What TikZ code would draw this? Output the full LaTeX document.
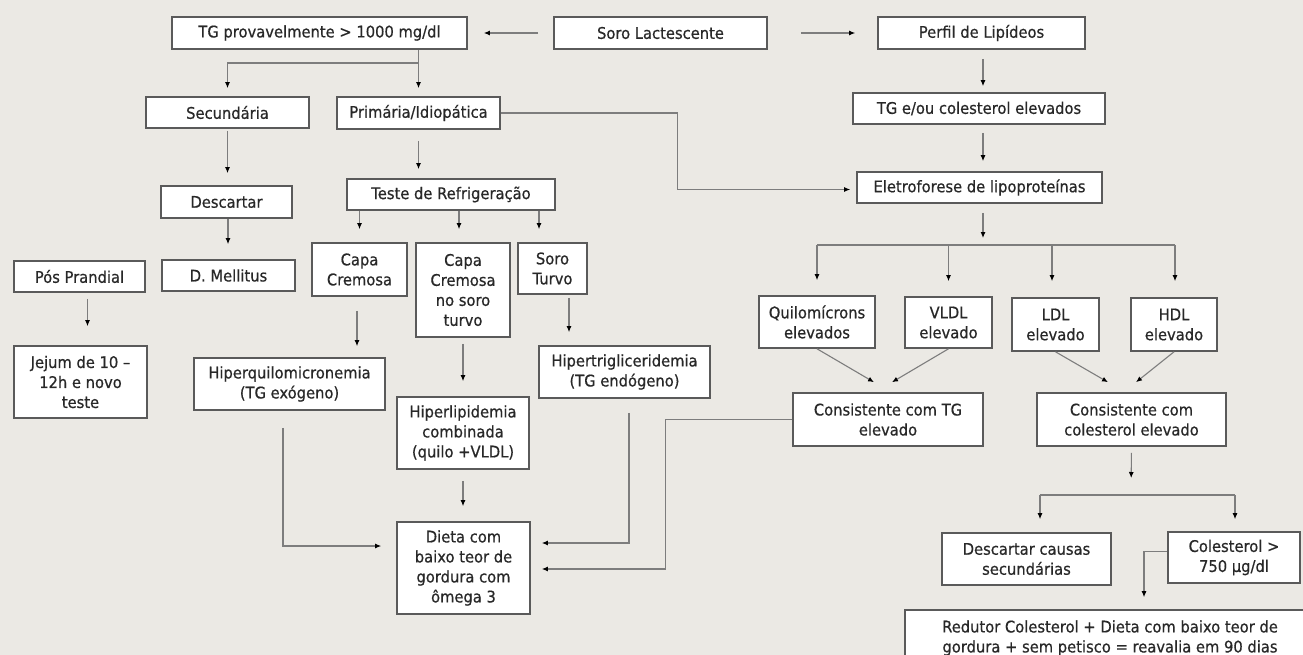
\documentclass[tikz,border=0pt]{standalone}
\usepackage{fontspec}
\setmainfont[FakeStretch=0.92,FakeBold=0.6]{DejaVu Sans}
\usetikzlibrary{arrows.meta,calc}
\definecolor{bgc}{RGB}{235,233,228}
\definecolor{linec}{RGB}{125,125,125}
\definecolor{boxc}{RGB}{90,90,90}
\definecolor{txtc}{RGB}{40,40,40}
\begin{document}
\begin{tikzpicture}[x=1pt,y=-1pt,
  box/.style={draw=boxc, line width=1.6pt, fill=white, text=txtc, align=center, inner sep=0pt, font=\fontsize{16}{20}\selectfont},
  conn/.style={draw=linec, line width=1.1pt, -{Latex[length=6pt,width=5pt,color=black]}},
  plainline/.style={draw=linec, line width=1.1pt}]
\useasboundingbox (0,0) rectangle (1303,655);
\clip (0,0) rectangle (1303,655);
\fill[bgc] (0,0) rectangle (1303,655);

% nodes
\node[box, minimum width=295pt, minimum height=32pt] (tg) at (319.5,33) {TG provavelmente > 1000 mg/dl};
\node[box, minimum width=213pt, minimum height=32pt] (soro) at (660.5,33) {Soro Lactescente};
\node[box, minimum width=207pt, minimum height=32pt] (perfil) at (981.5,33) {Perfil de Lipídeos};
\node[box, minimum width=163pt, minimum height=31pt] (sec) at (227.5,112.5) {Secundária};
\node[box, minimum width=163pt, minimum height=32pt] (prim) at (418.5,113) {Primária/Idiopática};
\node[box, minimum width=252pt, minimum height=31pt] (tgcol) at (979,108.5) {TG e/ou colesterol elevados};
\node[box, minimum width=131pt, minimum height=32pt] (desc) at (226.5,202) {Descartar};
\node[box, minimum width=208pt, minimum height=31pt] (teste) at (451,194.5) {Teste de Refrigeração};
\node[box, minimum width=245pt, minimum height=31pt] (eletro) at (979.5,187.5) {Eletroforese de lipoproteínas};
\node[box, minimum width=131pt, minimum height=31pt] (pos) at (79.5,276.5) {Pós Prandial};
\node[box, minimum width=133pt, minimum height=31pt] (dm) at (228.5,275.5) {D. Mellitus};
\node[box, minimum width=95pt, minimum height=53pt] (capa) at (359.5,269.5) {Capa\\Cremosa};
\node[box, minimum width=94pt, minimum height=94pt] (capasoro) at (463,290) {Capa\\Cremosa\\no soro\\turvo};
\node[box, minimum width=69pt, minimum height=51pt] (soroturvo) at (552.5,268.5) {Soro\\Turvo};
\node[box, minimum width=133pt, minimum height=72pt] (jejum) at (80.5,382) {Jejum de 10 –\\12h e novo\\teste};
\node[box, minimum width=191pt, minimum height=52pt] (hquilo) at (289.5,384) {Hiperquilomicronemia\\(TG exógeno)};
\node[box, minimum width=171pt, minimum height=52pt] (htrig) at (624.5,372) {Hipertrigliceridemia\\(TG endógeno)};
\node[box, minimum width=132pt, minimum height=72pt] (hlip) at (463,433) {Hiperlipidemia\\combinada\\(quilo +VLDL)};
\node[box, minimum width=133pt, minimum height=92pt] (dieta) at (463.5,568) {Dieta com\\baixo teor de\\gordura com\\ômega 3};
\node[box, minimum width=116pt, minimum height=52pt] (quilo) at (817,322) {Quilomícrons\\elevados};
\node[box, minimum width=87pt, minimum height=51pt] (vldl) at (948.5,322.5) {VLDL\\elevado};
\node[box, minimum width=87pt, minimum height=53pt] (ldl) at (1055.5,324.5) {LDL\\elevado};
\node[box, minimum width=86pt, minimum height=53pt] (hdl) at (1174,324.5) {HDL\\elevado};
\node[box, minimum width=190pt, minimum height=53pt] (constg) at (888,419.5) {Consistente com TG\\elevado};
\node[box, minimum width=189pt, minimum height=53pt] (conscol) at (1131.5,419.5) {Consistente com\\colesterol elevado};
\node[box, minimum width=169pt, minimum height=52pt] (desccausas) at (1026.5,559) {Descartar causas\\secundárias};
\node[box, minimum width=132pt, minimum height=51pt] (col750) at (1234,557.5) {Colesterol >\\750 µg/dl};
\node[box, minimum width=410pt, minimum height=56pt] (redutor) at (1110,638) {Redutor Colesterol + Dieta com baixo teor de\\gordura + sem petisco = reavalia em 90 dias};

% junction coordinates
\coordinate (j1) at (419,63);
\coordinate (b0) at (983,245);
\coordinate (b1) at (817,245);
\coordinate (b4) at (1175,245);
\coordinate (c0) at (1131,495);
\coordinate (c1) at (1040,495);
\coordinate (c2) at (1235,495);

% top row
\draw[conn, shorten <=15pt, shorten >=16pt] (soro.west) -- (tg.east);
\draw[conn, shorten <=33pt, shorten >=22pt] (soro.east) -- (perfil.west);

% TG branch
\draw[conn, shorten >=8pt] (tg.south -| prim.north) -- (prim.north);
\draw[conn, shorten >=8pt] (j1) -| (sec.north);

% right column
\draw[conn, shorten <=9pt, shorten >=6pt] ([xshift=1.5pt]perfil.south) -- ([xshift=4pt]tgcol.north);
\draw[conn, shorten <=8pt, shorten >=10pt] ([xshift=4pt]tgcol.south) -- ([xshift=3.5pt]eletro.north);
\draw[conn, shorten >=6pt] (prim.east) -- ++(177,0) |- ([yshift=-2pt]eletro.west);

% left column
\draw[conn, shorten <=2pt, shorten >=12pt] (sec.south) -- (sec.south |- desc.north);
\draw[conn, shorten <=11pt, shorten >=9pt] (prim.south) -- (prim.south |- teste.north);
\draw[conn, shorten <=0pt, shorten >=15pt] ([xshift=1.5pt]desc.south) -- ([xshift=1.5pt]desc.south |- dm.north);
\draw[conn, shorten <=6pt, shorten >=19pt] ([xshift=8pt]pos.south) -- ([xshift=8pt]pos.south |- jejum.north);

% teste children
\draw[conn, shorten >=13pt] (teste.south -| capa.north) -- (capa.north);
\draw[conn, shorten >=13pt] ([xshift=-4pt]teste.south -| capasoro.north) -- ([xshift=-4pt]capasoro.north);
\draw[conn, shorten >=13pt] ([xshift=-13.5pt]teste.south -| soroturvo.north) -- ([xshift=-13.5pt]soroturvo.north);

\draw[conn, shorten <=14pt, shorten >=11pt] ([xshift=-2.5pt]capa.south) -- ([xshift=-2.5pt]capa.south |- hquilo.north);
\draw[conn, shorten <=6pt, shorten >=15pt] (capasoro.south) -- (capasoro.south |- hlip.north);
\draw[conn, shorten <=3pt, shorten >=13pt] ([xshift=16.5pt]soroturvo.south) -- ([xshift=16.5pt]soroturvo.south |- htrig.north);

% into dieta
\draw[conn, shorten <=17pt, shorten >=15pt] ([xshift=-6.5pt]hquilo.south) |- ([yshift=22pt]dieta.west);
\draw[conn, shorten <=11pt, shorten >=15pt] (hlip.south) -- (hlip.south |- dieta.north);
\draw[conn, shorten <=14pt, shorten >=11pt] ([xshift=4.5pt]htrig.south) |- ([yshift=25pt]dieta.east);
\draw[conn, shorten >=11pt] (constg.west) -- ++(-127,0) |- ([yshift=-1pt]dieta.east);

% eletroforese branch
\draw[conn, shorten <=9pt, shorten >=7pt] ([xshift=3.5pt]eletro.south) -- (b0);
\draw[plainline] (b1) -- (b4);
\draw[conn, shorten >=15pt] (quilo.north |- b1) -- (quilo.north);
\draw[conn, shorten >=15pt] (vldl.north |- b1) -- (vldl.north);
\draw[conn, shorten >=16pt] ([xshift=-3.5pt]ldl.north |- b1) -- ([xshift=-3.5pt]ldl.north);
\draw[conn, shorten >=16pt] ([xshift=1pt]hdl.north |- b1) -- ([xshift=1pt]hdl.north);

% to consistente boxes
\draw[conn] (quilo.south) -- ([xshift=-14pt,yshift=10pt]constg.north);
\draw[conn] (vldl.south) -- ([xshift=4pt,yshift=10pt]constg.north);
\draw[conn] (ldl.south) -- ([xshift=-23.5pt,yshift=10pt]conscol.north);
\draw[conn] (hdl.south) -- ([xshift=4.5pt,yshift=10pt]conscol.north);

% colesterol branch
\draw[conn, shorten <=6pt, shorten >=17pt] (conscol.south) -- (c0);
\draw[plainline] (c1) -- (c2);
\draw[conn, shorten >=13pt] (c1) -- (c1 |- desccausas.north);
\draw[conn, shorten >=12pt] (c2) -- (c2 |- col750.north);
\draw[conn, shorten >=12pt] ([yshift=6pt]col750.west) -| ([xshift=34pt]redutor.north);
\end{tikzpicture}
\end{document}
